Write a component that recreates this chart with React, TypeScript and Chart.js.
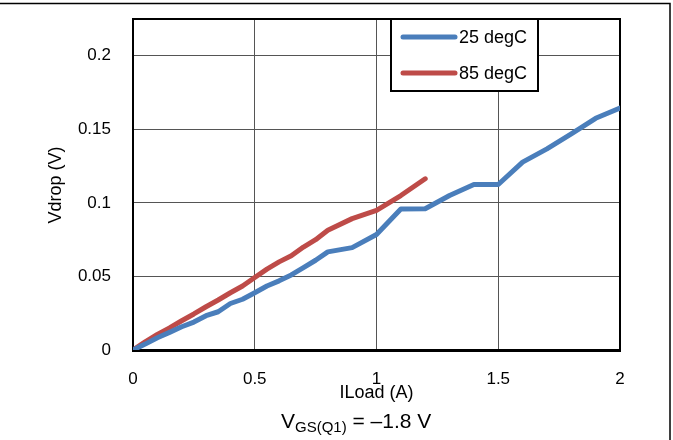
import React, { useEffect, useRef } from "react";
import { Chart, registerables } from "chart.js";

Chart.register(...registerables);

// Load current (A) and voltage drop (V) at two temperatures
const iLoad25: number[] = [0, 0.05, 0.1, 0.15, 0.2, 0.25, 0.3, 0.35, 0.4, 0.45, 0.5, 0.55, 0.6, 0.65, 0.7, 0.75, 0.8, 0.9, 1.0, 1.1, 1.2, 1.3, 1.4, 1.5, 1.6, 1.7, 1.8, 1.9, 2.0];
const vdrop25: number[] = [0, 0.004, 0.0083, 0.012, 0.0158, 0.019, 0.0233, 0.026, 0.0316, 0.0345, 0.0389, 0.0435, 0.047, 0.051, 0.056, 0.061, 0.0667, 0.0696, 0.0785, 0.0958, 0.096, 0.105, 0.1125, 0.1125, 0.1277, 0.1367, 0.1469, 0.1575, 0.1645];

const iLoad85: number[] = [0, 0.05, 0.1, 0.15, 0.2, 0.25, 0.3, 0.35, 0.4, 0.45, 0.5, 0.55, 0.6, 0.65, 0.7, 0.75, 0.8, 0.9, 1.0, 1.1, 1.2];
const vdrop85: number[] = [0, 0.0055, 0.0106, 0.015, 0.0199, 0.0245, 0.0294, 0.034, 0.0389, 0.0435, 0.0493, 0.055, 0.0599, 0.064, 0.070, 0.075, 0.0814, 0.0893, 0.0949, 0.105, 0.1164];

const seriesNames: string[] = ["25 degC", "85 degC"];
const seriesColors: string[] = ["#4A7EBB", "#BE4B48"];

const xTicks: number[] = [0, 0.5, 1, 1.5, 2];
const yTicks: number[] = [0, 0.05, 0.1, 0.15, 0.2];

const FONT = "Liberation Sans, Arial, sans-serif";

const decor = {
  id: "decor",
  beforeDatasetsDraw(chart: any) {
    const { ctx, chartArea: a } = chart;
    ctx.save();
    ctx.strokeStyle = "#000";
    ctx.lineWidth = 2;
    ctx.strokeRect(a.left, a.top, a.right - a.left, a.bottom - a.top);
    ctx.lineWidth = 3;
    ctx.beginPath();
    ctx.moveTo(a.left - 1, a.bottom + 0.5);
    ctx.lineTo(a.right + 1, a.bottom + 0.5);
    ctx.stroke();
    ctx.restore();
  },
  afterDraw(chart: any) {
    const { ctx, chartArea: a } = chart;
    ctx.save();

    // outer frame (top and right edges)
    ctx.strokeStyle = "#000";
    ctx.lineWidth = 1.5;
    ctx.beginPath();
    ctx.moveTo(0, 3.5);
    ctx.lineTo(670, 3.5);
    ctx.lineTo(670, 440);
    ctx.stroke();

    // legend box
    const lx = 391, ly = 19, lw = 147, lh = 72;
    ctx.fillStyle = "#fff";
    ctx.fillRect(lx, ly, lw, lh);
    ctx.lineWidth = 2;
    ctx.strokeStyle = "#000";
    ctx.strokeRect(lx, ly, lw, lh);
    ctx.font = `18px ${FONT}`;
    ctx.textBaseline = "middle";
    ctx.textAlign = "left";
    seriesNames.forEach((name, i) => {
      const y = 37 + i * 36;
      ctx.strokeStyle = seriesColors[i];
      ctx.lineWidth = 5;
      ctx.lineCap = "round";
      ctx.beginPath();
      ctx.moveTo(403, y);
      ctx.lineTo(455, y);
      ctx.stroke();
      ctx.fillStyle = "#000";
      ctx.fillText(name, 459, y + 1);
    });

    // axis titles
    ctx.fillStyle = "#000";
    ctx.font = `18px ${FONT}`;
    ctx.textAlign = "center";
    ctx.textBaseline = "middle";
    ctx.fillText("ILoad (A)", (a.left + a.right) / 2, 393);
    ctx.save();
    ctx.translate(56, 185);
    ctx.rotate(-Math.PI / 2);
    ctx.fillText("Vdrop (V)", 0, 0);
    ctx.restore();

    // condition note with subscript
    ctx.textAlign = "left";
    ctx.textBaseline = "alphabetic";
    const base = 428;
    let x = 281;
    ctx.font = `21px ${FONT}`;
    ctx.fillText("V", x, base);
    x += ctx.measureText("V").width;
    ctx.font = `15px ${FONT}`;
    ctx.fillText("GS(Q1)", x, base + 4);
    x += ctx.measureText("GS(Q1)").width;
    ctx.font = `21px ${FONT}`;
    ctx.fillText(" = \u20131.8 V", x, base);

    ctx.restore();
  },
};

export default function App() {
  const ref = useRef<HTMLCanvasElement | null>(null);

  useEffect(() => {
    document.body.style.margin = "0";
    const canvas = ref.current;
    if (!canvas) return;
    const chart = new Chart(canvas, {
      type: "line",
      data: {
        datasets: [
          {
            label: seriesNames[0],
            data: iLoad25.map((x, i) => ({ x, y: vdrop25[i] })),
            borderColor: seriesColors[0],
            backgroundColor: seriesColors[0],
            borderWidth: 5,
            pointRadius: 0,
            tension: 0,
            borderCapStyle: "round",
            borderJoinStyle: "round",
          },
          {
            label: seriesNames[1],
            data: iLoad85.map((x, i) => ({ x, y: vdrop85[i] })),
            borderColor: seriesColors[1],
            backgroundColor: seriesColors[1],
            borderWidth: 5,
            pointRadius: 0,
            tension: 0,
            borderCapStyle: "round",
            borderJoinStyle: "round",
          },
        ],
      },
      options: {
        responsive: false,
        animation: false,
        events: [],
        layout: { padding: { left: 0, top: 19, right: 53, bottom: 0 } },
        plugins: { legend: { display: false }, tooltip: { enabled: false } },
        scales: {
          x: {
            type: "linear",
            min: 0,
            max: 2,
            afterBuildTicks: (s: any) => {
              s.ticks = xTicks.map((v) => ({ value: v }));
            },
            afterFit: (s: any) => {
              s.height = 90;
              s.paddingLeft = 0;
              s.paddingRight = 0;
              s.paddingTop = 0;
              s.paddingBottom = 0;
            },
            ticks: {
              color: "#000",
              font: { family: FONT, size: 17 },
              padding: 19,
              maxRotation: 0,
              callback: (v: any) => String(v),
            },
            grid: { color: "#555", lineWidth: 1, drawTicks: false },
            border: { display: false },
          },
          y: {
            type: "linear",
            min: 0,
            max: 0.225,
            afterBuildTicks: (s: any) => {
              s.ticks = yTicks.map((v) => ({ value: v }));
            },
            afterFit: (s: any) => {
              s.width = 133;
              s.paddingLeft = 0;
              s.paddingRight = 0;
              s.paddingTop = 0;
              s.paddingBottom = 0;
            },
            ticks: {
              color: "#000",
              font: { family: FONT, size: 17 },
              padding: 22,
              callback: (v: any) => String(Math.round(Number(v) * 1000) / 1000),
            },
            grid: { color: "#555", lineWidth: 1, drawTicks: false },
            border: { display: false },
          },
        },
      },
      plugins: [decor],
    });
    return () => chart.destroy();
  }, []);

  return (
    <div style={{ width: 673, height: 440, position: "relative", background: "#fff" }}>
      <canvas ref={ref} width={673} height={440} style={{ display: "block", width: 673, height: 440 }} />
    </div>
  );
}
